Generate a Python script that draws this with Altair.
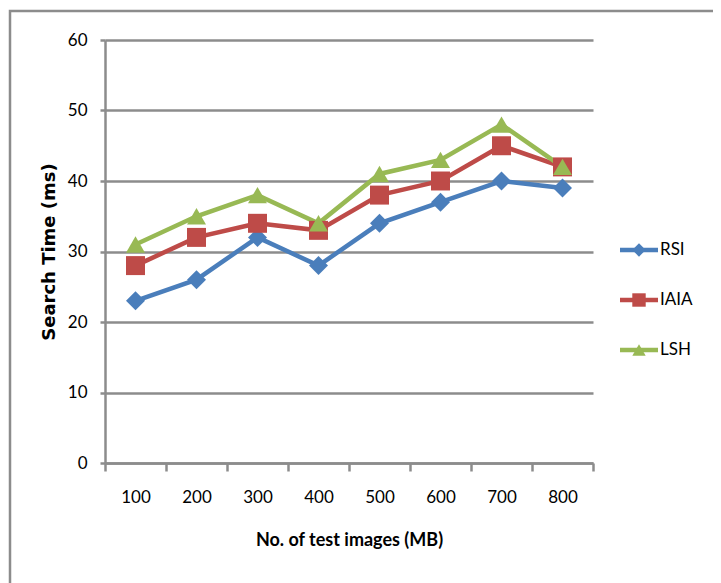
import altair as alt
import pandas as pd

sizes = ["100", "200", "300", "400", "500", "600", "700", "800"]
rsi = [23, 26, 32, 28, 34, 37, 40, 39]
iaia = [28, 32, 34, 33, 38, 40, 45, 42]
lsh = [31, 35, 38, 34, 41, 43, 48, 42]
series = ["RSI", "IAIA", "LSH"]
colors = ["#4a7ebb", "#be4b48", "#98b954"]
shapes = ["diamond", "square", "triangle-up"]

rows = []
for name, vals in zip(series, [rsi, iaia, lsh]):
    for s, v in zip(sizes, vals):
        rows.append({"size": s, "value": v, "series": name})
df = pd.DataFrame(rows)
leg = pd.DataFrame({"series": series})

LBL = "Lato, Open Sans, sans-serif"

x_enc = alt.X("size:N", sort=sizes,
              scale=alt.Scale(type="band", paddingInner=0, paddingOuter=0),
              axis=alt.Axis(title="No. of test images (MB)", labelAngle=0, tickBand="extent",
                            tickSize=8, labelPadding=18, titlePadding=26,
                            titleFont=LBL, titleFontSize=18, titleFontWeight="bold",
                            titleColor="#000"))
y_enc = alt.Y("value:Q", scale=alt.Scale(domain=[0, 60]),
              axis=alt.Axis(title="Search Time (ms)", values=[0, 10, 20, 30, 40, 50, 60],
                            tickSize=5, labelPadding=13, titlePadding=9,
                            titleFont="DejaVu Sans", titleFontSize=18, titleFontWeight="bold",
                            titleColor="#000"))
color_enc = alt.Color("series:N", scale=alt.Scale(domain=series, range=colors), legend=None)
shape_enc = alt.Shape("series:N", scale=alt.Scale(domain=series, range=shapes), legend=None)

lines = alt.Chart(df).mark_line(strokeWidth=4.5).encode(
    x=x_enc, y=y_enc, color=color_enc, detail="series:N")
points = alt.Chart(df).mark_point(filled=True, size=360, opacity=1).encode(
    x=x_enc, y=y_enc, color=color_enc, shape=shape_enc)
main = alt.layer(lines, points)

# frame around the whole figure (decorative)
frame = alt.Chart(pd.DataFrame({"a": [0]})).mark_rect(
    fill=None, stroke="#8c8c8c", strokeWidth=2.5).encode(
    x=alt.value(-95), x2=alt.value(610), y=alt.value(-29), y2=alt.value(600))

leg_y = alt.Y("series:N", sort=series,
              scale=alt.Scale(type="point", domain=series, range=[210, 310], padding=0),
              axis=None)
leg_line = alt.Chart(leg).mark_rule(strokeWidth=4.5).encode(
    x=alt.value(515), x2=alt.value(553), y=leg_y, color=color_enc)
leg_pt = alt.Chart(leg).mark_point(filled=True, size=180, opacity=1).encode(
    x=alt.value(534), y=leg_y, color=color_enc, shape=shape_enc)
leg_txt = alt.Chart(leg).mark_text(align="left", baseline="middle", font=LBL,
                                    fontSize=17, color="#000").encode(
    x=alt.value(555), y=leg_y, text="series:N")
legend_layer = alt.layer(leg_line, leg_pt, leg_txt)

chart = alt.layer(frame, main, legend_layer).resolve_scale(y="independent").properties(
    width=488, height=423,
    autosize=alt.AutoSizeParams(type="none"),
    padding={"left": 97, "top": 32, "right": 120, "bottom": 140},
).configure_view(stroke=None).configure_axis(
    labelFont=LBL, labelFontSize=17, labelColor="#000",
    domainColor="#8c8c8c", domainWidth=2.5, tickColor="#8c8c8c", tickWidth=2.5,
    gridColor="#8c8c8c", gridWidth=2.5,
).configure_axisX(grid=False).configure_axisY(grid=True)

chart.save("out.html", embed_options={"renderer": "svg", "actions": False})
